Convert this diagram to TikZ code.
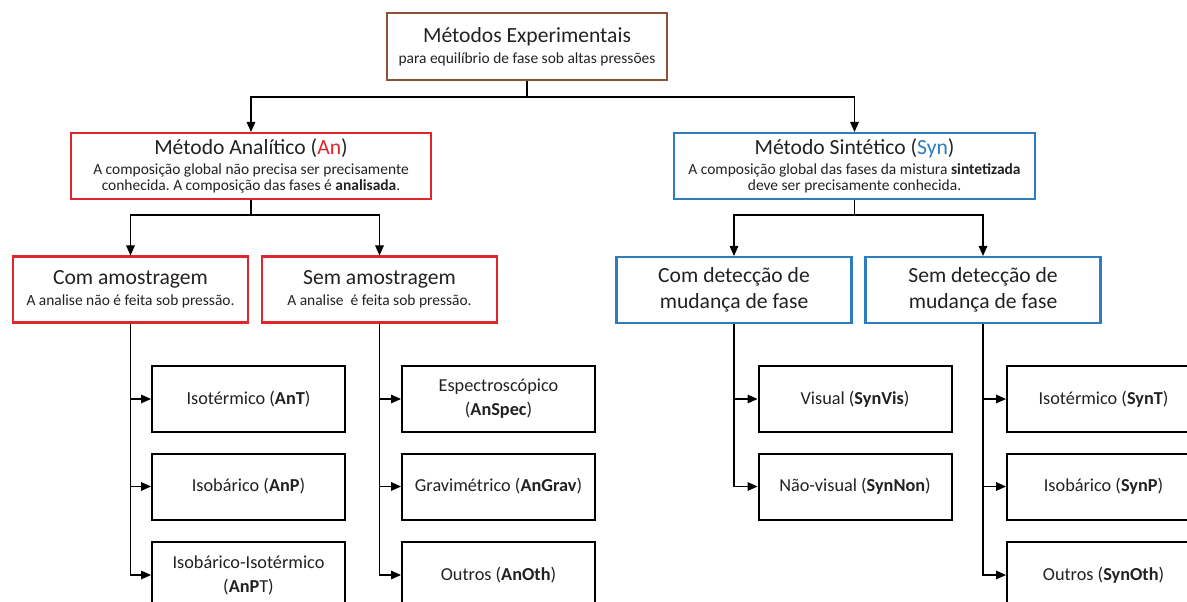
\documentclass[tikz,border=0pt]{standalone}
\usepackage{fontspec}
\setmainfont{Carlito}
\usetikzlibrary{arrows.meta}
\definecolor{anred}{HTML}{E0252B}
\definecolor{synblue}{HTML}{2E7BBF}
\definecolor{topbrown}{HTML}{8B5236}
\definecolor{txt}{HTML}{222222}
\newcommand\ttlf{\fontsize{16.2}{19}\selectfont}
\newcommand\subtf{\fontsize{11.6}{14}\selectfont}
\newcommand\subtg{\fontsize{11.6}{14.5}\selectfont}
\newcommand\leaff{\fontsize{13.7}{17}\selectfont}
\frenchspacing
\begin{document}
\begin{tikzpicture}[x=0.75pt,y=-0.75pt,
  box/.style={draw, line width=1.6pt, fill=white, align=center, text=txt, inner sep=0pt},
  topbox/.style={box, draw=topbrown, minimum width=210pt, minimum height=50.25pt},
  anbox/.style={box, draw=anred, minimum width=270pt, minimum height=49.5pt},
  synbox/.style={box, draw=synblue, minimum width=270.75pt, minimum height=49.5pt},
  midred/.style={box, draw=anred, minimum width=176.25pt, minimum height=49.5pt},
  midblue/.style={box, draw=synblue, minimum width=176.25pt, minimum height=49.5pt},
  leaf/.style={box, draw=black, line width=1.5pt, minimum width=144.75pt, minimum height=49.5pt, font=\leaff},
  conn/.style={draw=black, line width=0.8pt},
  arr/.style={conn, -{Triangle[length=7.5pt,width=6.5pt]}}
]
\useasboundingbox (0,0) rectangle (1187,602);
\clip (0,0) rectangle (1187,602);
\fill[white] (0,0) rectangle (1187,602);

% top
\node[topbox] (top) at (527,46.5) {{\ttlf Métodos Experimentais}\\[3.5pt]{\subtf para equilíbrio de fase sob altas pressões}};

% level 2
\node[anbox] (an) at (251,166) {{\ttlf Método Analítico (\textcolor{anred}{An})}\\[2.5pt]{\subtg A composição global não precisa ser precisamente}\\{\subtg conhecida. A composição das fases é \textbf{analisada}.}};
\node[synbox] (syn) at (854.5,166) {{\ttlf Método Sintético (\textcolor{synblue}{Syn})}\\[2.5pt]{\subtg A composição global das fases da mistura \textbf{sintetizada}}\\{\subtg deve ser precisamente conhecida.}};

% level 3
\node[midred] (com) at (130.5,289.5) {{\ttlf Com amostragem}\\[3.5pt]{\subtf A analise não é feita sob pressão.}};
\node[midred] (sem) at (379.5,289.5) {{\ttlf Sem amostragem}\\[3.5pt]{\subtf A analise\ \ é feita sob pressão.}};
\node[midblue] (cdet) at (734,290) {{\ttlf Com detecção de}\\[5pt]{\ttlf mudança de fase}};
\node[midblue] (sdet) at (983,290) {{\ttlf Sem detecção de}\\[5pt]{\ttlf mudança de fase}};

% leaves
\node[leaf] (a1) at (248.5,399) {Isotérmico (\textbf{AnT})};
\node[leaf] (a2) at (248.5,486.5) {Isobárico (\textbf{AnP})};
\node[leaf] (a3) at (248.5,575) {Isobárico-Isotérmico\\[1pt](\textbf{AnP}T)};
\node[leaf] (b1) at (498.5,399) {Espectroscópico\\[1pt](\textbf{AnSpec})};
\node[leaf] (b2) at (498.5,486.5) {Gravimétrico (\textbf{AnGrav})};
\node[leaf] (b3) at (498.5,575) {Outros (\textbf{AnOth})};
\node[leaf] (c1) at (855,399) {Visual (\textbf{SynVis})};
\node[leaf] (c2) at (855,486.5) {Não-visual (\textbf{SynNon})};
\node[leaf] (d1) at (1103.5,399) {Isotérmico (\textbf{SynT})};
\node[leaf] (d2) at (1103.5,486.5) {Isobárico (\textbf{SynP})};
\node[leaf] (d3) at (1103.5,575) {Outros (\textbf{SynOth})};

% connectors
\coordinate (j0) at (527,97);
\coordinate (j1) at (251,215);
\coordinate (j2) at (854.5,215);
\draw[conn] (top.south) -- (j0);
\draw[arr] (j0) -| (an.north);
\draw[arr] (j0) -| (syn.north);
\draw[conn] (an.south) -- (j1);
\draw[arr] (j1) -| (com.north);
\draw[arr] (j1) -| (sem.north);
\draw[conn] (syn.south) -- (j2);
\draw[arr] (j2) -| (cdet.north);
\draw[arr] (j2) -| (sdet.north);

\draw[arr] (com.south) |- (a1.west);
\draw[arr] (com.south) |- (a2.west);
\draw[arr] (com.south) |- (a3.west);
\draw[arr] (sem.south) |- (b1.west);
\draw[arr] (sem.south) |- (b2.west);
\draw[arr] (sem.south) |- (b3.west);
\draw[arr] (cdet.south) |- (c1.west);
\draw[arr] (cdet.south) |- (c2.west);
\draw[arr] (sdet.south) |- (d1.west);
\draw[arr] (sdet.south) |- (d2.west);
\draw[arr] (sdet.south) |- (d3.west);
\end{tikzpicture}
\end{document}
